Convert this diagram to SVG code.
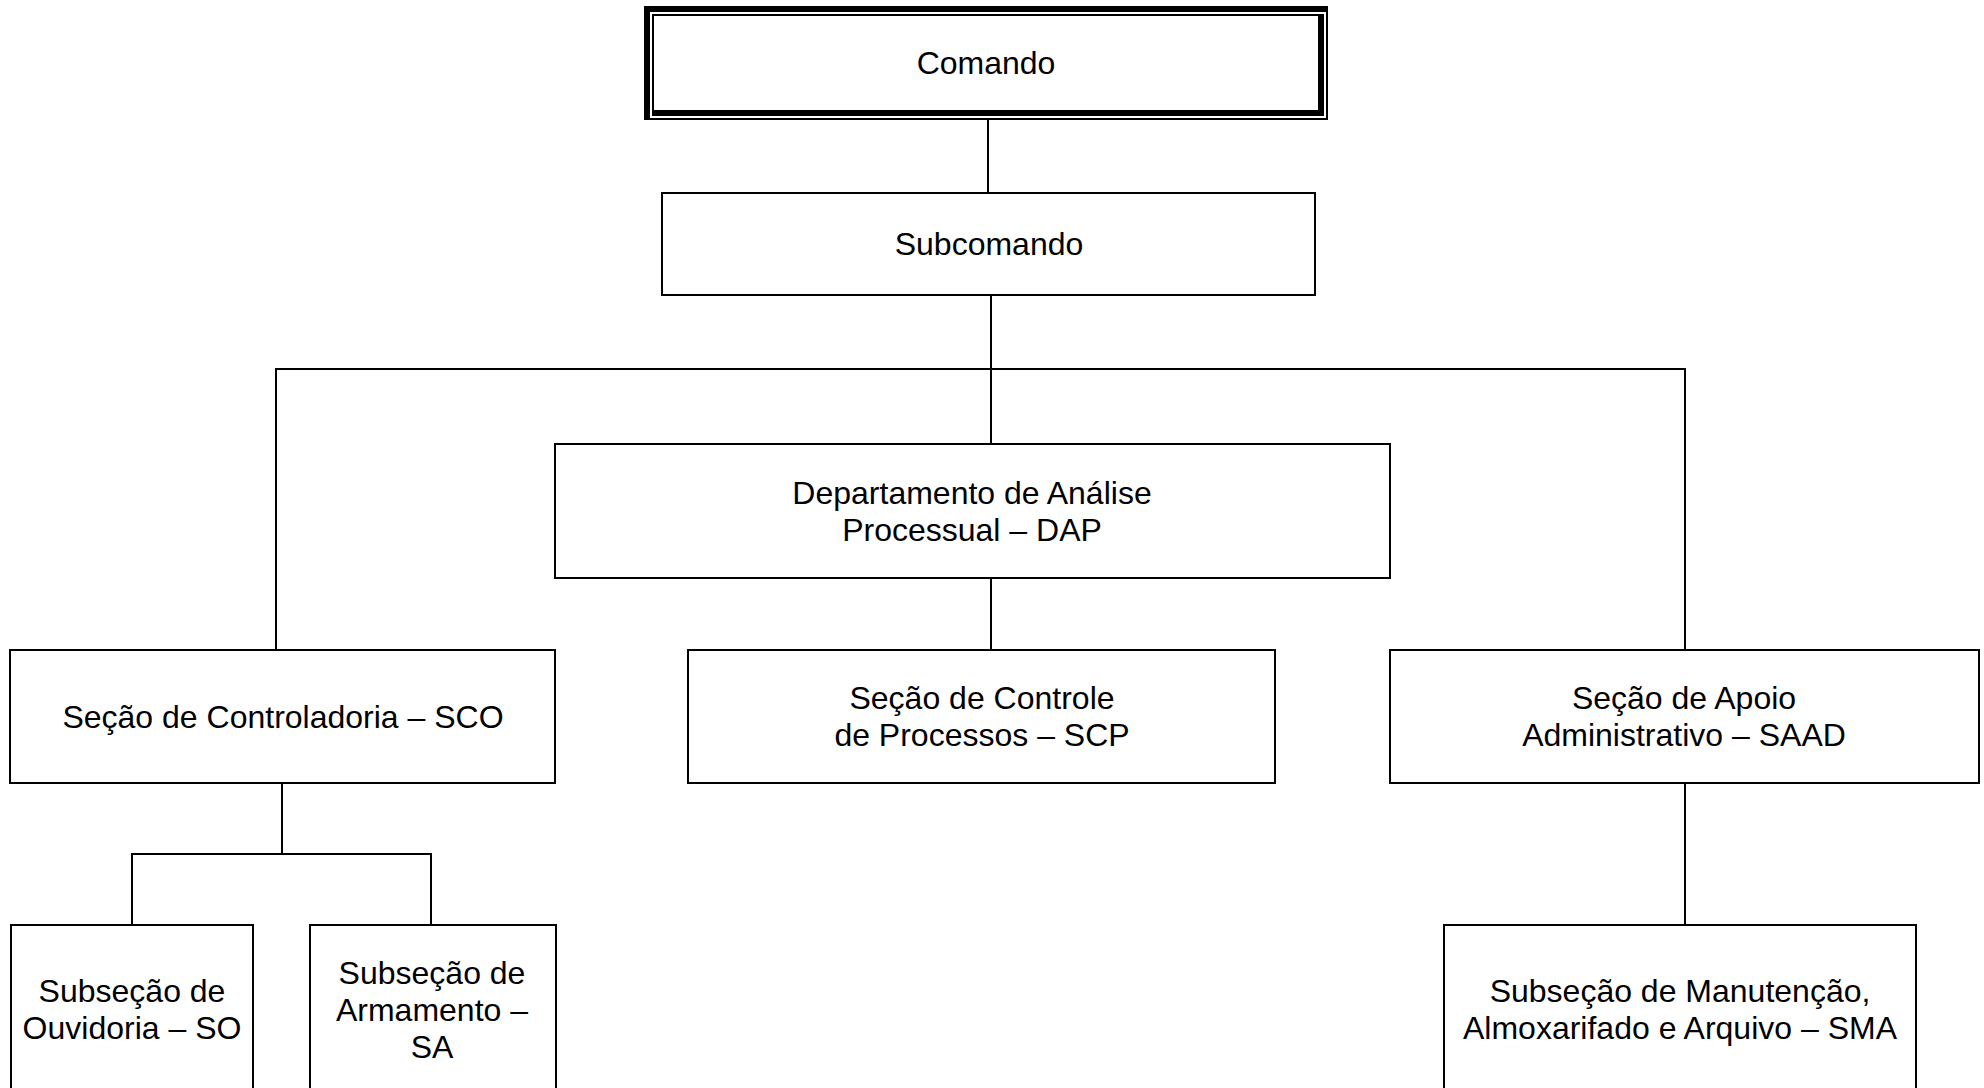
<svg xmlns="http://www.w3.org/2000/svg" width="1984" height="1088" viewBox="0 0 1984 1088">
<style>
.box{fill:#fff;stroke:#000;stroke-width:2}
.ln{fill:none;stroke:#000;stroke-width:2}
.t{font-family:"Liberation Sans",Arial,sans-serif;font-size:32px;fill:#000;text-anchor:middle}
.bd{fill:#000}
</style>
<rect width="1984" height="1088" fill="#fff"/>
<g id="connectors">
<line class="ln" x1="988" y1="120" x2="988" y2="193"/>
<line class="ln" x1="991" y1="295" x2="991" y2="444"/>
<line class="ln" x1="275" y1="369" x2="1686" y2="369"/>
<line class="ln" x1="276" y1="369" x2="276" y2="650"/>
<line class="ln" x1="1685" y1="369" x2="1685" y2="650"/>
<line class="ln" x1="991" y1="578" x2="991" y2="650"/>
<line class="ln" x1="282" y1="783" x2="282" y2="854"/>
<line class="ln" x1="131" y1="854" x2="432" y2="854"/>
<line class="ln" x1="132" y1="854" x2="132" y2="925"/>
<line class="ln" x1="431" y1="854" x2="431" y2="925"/>
<line class="ln" x1="1685" y1="783" x2="1685" y2="925"/>
</g>
<g id="comando">
<rect x="644" y="6" width="684" height="114" fill="#fff"/>
<rect class="bd" x="644" y="6" width="684" height="6"/>
<rect class="bd" x="644" y="6" width="6" height="114"/>
<rect class="bd" x="1326" y="6" width="2" height="114"/>
<rect class="bd" x="644" y="118" width="684" height="2"/>
<rect class="bd" x="652" y="14" width="672" height="2"/>
<rect class="bd" x="652" y="14" width="2" height="102"/>
<rect class="bd" x="1318" y="14" width="6" height="102"/>
<rect class="bd" x="652" y="110" width="672" height="6"/>
<text class="t" x="986" y="74">Comando</text>
</g>
<g id="subcomando">
<rect class="box" x="662" y="193" width="653" height="102"/>
<text class="t" x="989" y="255">Subcomando</text>
</g>
<g id="dap">
<rect class="box" x="555" y="444" width="835" height="134"/>
<text class="t" x="972" y="504">Departamento de Análise</text>
<text class="t" x="972" y="541">Processual – DAP</text>
</g>
<g id="sco">
<rect class="box" x="10" y="650" width="545" height="133"/>
<text class="t" x="283" y="728">Seção de Controladoria – SCO</text>
</g>
<g id="scp">
<rect class="box" x="688" y="650" width="587" height="133"/>
<text class="t" x="982" y="709">Seção de Controle</text>
<text class="t" x="982" y="746">de Processos – SCP</text>
</g>
<g id="saad">
<rect class="box" x="1390" y="650" width="589" height="133"/>
<text class="t" x="1684" y="709">Seção de Apoio</text>
<text class="t" x="1684" y="746">Administrativo – SAAD</text>
</g>
<g id="so">
<rect class="box" x="11" y="925" width="242" height="175"/>
<text class="t" x="132" y="1002">Subseção de</text>
<text class="t" x="132" y="1039">Ouvidoria – SO</text>
</g>
<g id="sa">
<rect class="box" x="310" y="925" width="246" height="175"/>
<text class="t" x="432" y="984">Subseção de</text>
<text class="t" x="432" y="1021">Armamento –</text>
<text class="t" x="432" y="1058">SA</text>
</g>
<g id="sma">
<rect class="box" x="1444" y="925" width="472" height="175"/>
<text class="t" x="1680" y="1002">Subseção de Manutenção,</text>
<text class="t" x="1680" y="1039">Almoxarifado e Arquivo – SMA</text>
</g>
</svg>
